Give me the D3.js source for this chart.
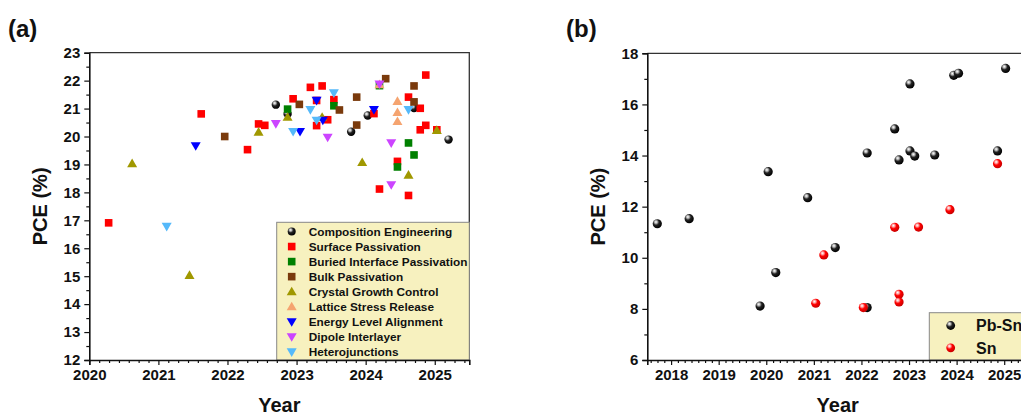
<!DOCTYPE html>
<html><head><meta charset="utf-8">
<script src="https://cdn.jsdelivr.net/npm/d3@7"></script>
<style>
body{margin:0;background:#fff;}
svg text{font-family:"Liberation Sans",Arial,sans-serif;font-weight:bold;}
</style></head>
<body><svg id="c" width="1021" height="415"></svg>
<script>
// ---------- Panel (a) data: [year, PCE %] ----------
const compositionEngineering = [[2022.70,21.14],[2022.87,20.81],[2023.79,20.17],[2024.03,20.75],[2024.70,21.02],[2025.20,19.89]];
const surfacePassivation = [[2020.28,16.91],[2021.62,20.81],[2022.29,19.53],[2022.45,20.45],[2022.54,20.40],[2022.95,21.35],[2023.20,21.76],[2023.37,21.81],[2023.29,20.39],[2023.29,21.29],[2023.45,20.60],[2023.54,21.32],[2024.12,20.82],[2024.20,18.12],[2024.46,19.11],[2024.62,17.89],[2024.62,21.41],[2024.79,21.01],[2024.87,22.20],[2024.87,20.40],[2024.79,20.24],[2025.03,20.24]];
const buriedInterfacePassivation = [[2022.87,20.98],[2023.54,21.10],[2024.46,18.91],[2024.62,19.77],[2024.70,19.34],[2024.20,21.82]];
const bulkPassivation = [[2021.96,20.00],[2023.04,21.15],[2023.62,20.95],[2023.87,21.41],[2023.87,20.41],[2024.29,22.07],[2024.70,21.81],[2024.70,21.24]];
const crystalGrowthControl = [[2020.62,19.03],[2021.45,15.03],[2022.45,20.16],[2022.87,20.69],[2023.37,20.69],[2023.95,19.07],[2024.62,18.62],[2025.03,20.22]];
const latticeStressRelease = [[2024.46,21.26],[2024.46,20.86],[2024.46,20.54],[2024.20,21.86]];
const energyLevelAlignment = [[2021.54,19.67],[2023.05,20.18],[2023.29,21.29],[2023.38,20.58],[2024.12,20.96]];
const dipoleInterlayer = [[2022.70,20.46],[2023.45,19.97],[2024.20,21.88],[2024.37,19.77],[2024.37,18.27]];
const heterojunctions = [[2021.12,16.78],[2022.95,20.18],[2023.20,20.96],[2023.29,20.58],[2023.54,21.56],[2024.62,20.96]];

const seriesNamesA = ["Composition Engineering","Surface Passivation","Buried Interface Passivation","Bulk Passivation","Crystal Growth Control","Lattice Stress Release","Energy Level Alignment","Dipole Interlayer","Heterojunctions"];
const seriesDataA = [compositionEngineering,surfacePassivation,buriedInterfacePassivation,bulkPassivation,crystalGrowthControl,latticeStressRelease,energyLevelAlignment,dipoleInterlayer,heterojunctions];
const xTicksA = [2020,2021,2022,2023,2024,2025];
const yTicksA = [12,13,14,15,16,17,18,19,20,21,22,23];

// ---------- Panel (b) data ----------
const pbSn = [[2017.71,11.33],[2018.38,11.53],[2019.87,8.11],[2020.04,13.37],[2020.20,9.42],[2020.87,12.35],[2021.45,10.40],[2022.12,14.10],[2022.12,8.05],[2022.70,15.04],[2022.79,13.83],[2023.02,16.80],[2023.02,14.18],[2023.12,13.98],[2023.54,14.02],[2023.94,17.14],[2024.04,17.22],[2024.86,14.18],[2025.03,17.41]];
const sn = [[2021.04,8.22],[2021.21,10.11],[2022.04,8.05],[2022.70,11.19],[2022.79,8.57],[2022.79,8.27],[2023.20,11.20],[2023.86,11.88],[2024.86,13.68]];
const seriesNamesB = ["Pb-Sn","Sn"];
const xTicksB = [2018,2019,2020,2021,2022,2023,2024,2025];
const yTicksB = [6,8,10,12,14,16,18];

// ---------- styles ----------
const styleA = [
  {shape:"sphere", grad:"gBlack"},
  {shape:"square", color:"#ff0000"},
  {shape:"square", color:"#008000"},
  {shape:"square", color:"#7a3a0c"},
  {shape:"up", color:"#a09800"},
  {shape:"up", color:"#f5a470"},
  {shape:"down", color:"#0000ff"},
  {shape:"down", color:"#cc44ff"},
  {shape:"down", color:"#55b9fa"}
];
const styleB = [{grad:"gBlack"},{grad:"gRed"}];

const svg = d3.select("#c");
const defs = svg.append("defs");
function grad(id, stops){
  const g = defs.append("radialGradient").attr("id",id).attr("cx","38%").attr("cy","35%").attr("r","65%").attr("fx","35%").attr("fy","30%");
  stops.forEach(s=>g.append("stop").attr("offset",s[0]).attr("stop-color",s[1]));
}
grad("gBlack",[["0%","#ffffff"],["22%","#bbbbbb"],["50%","#222222"],["100%","#000000"]]);
grad("gRed",[["0%","#ffffff"],["22%","#ffaaaa"],["50%","#ff0000"],["100%","#c80000"]]);

function drawMarker(g, st, x, y, r){
  if(st.shape==="sphere" || st.grad){
    g.append("circle").attr("cx",x).attr("cy",y).attr("r",r).attr("fill","url(#"+st.grad+")");
  } else if(st.shape==="square"){
    g.append("rect").attr("x",x-3.8).attr("y",y-3.8).attr("width",7.6).attr("height",7.6).attr("fill",st.color);
  } else if(st.shape==="up"){
    g.append("path").attr("d",`M${x},${y-5}L${x+5},${y+3.6}L${x-5},${y+3.6}Z`).attr("fill",st.color);
  } else {
    g.append("path").attr("d",`M${x},${y+5}L${x+5},${y-3.6}L${x-5},${y-3.6}Z`).attr("fill",st.color);
  }
}

function minorVals(ticks, n, lo, hi){
  const out=[]; const step=(ticks[1]-ticks[0])/(n+1);
  for(let v=ticks[0]-step*(n+1); v<=ticks[ticks.length-1]+step*(n+1)+1e-9; v+=step){
    const vv=Math.round(v*1000)/1000;
    if(vv>=lo-1e-9 && vv<=hi+1e-9 && !ticks.some(t=>Math.abs(t-vv)<1e-6)) out.push(vv);
  }
  return out;
}

function panel(opt){
  const x = d3.scaleLinear().domain(opt.xd).range([opt.l,opt.r]);
  const y = d3.scaleLinear().domain(opt.yd).range([opt.b,opt.t]);
  const g = svg.append("g");
  // top/right frame
  g.append("path").attr("d",`M${opt.l},${opt.t}H${opt.r}V${opt.b}`).attr("fill","none").attr("stroke","#333").attr("stroke-width",1.3);
  // markers
  const mg = g.append("g");
  opt.data.forEach((s,i)=>s.forEach(d=>drawMarker(mg,opt.styles[i],x(d[0]),y(d[1]),opt.r0)));
  // legend
  const lg = g.append("g");
  lg.append("rect").attr("x",opt.leg.x).attr("y",opt.leg.y).attr("width",opt.leg.w).attr("height",opt.leg.h).attr("fill","#f7f1bf").attr("stroke","#888").attr("stroke-width",1);
  opt.names.forEach((n,i)=>{
    const yy = opt.leg.y0 + i*opt.leg.dy;
    drawMarker(lg,opt.styles[i],opt.leg.sx,yy,opt.leg.r);
    lg.append("text").attr("x",opt.leg.tx).attr("y",yy).attr("dy","0.36em").attr("font-size",opt.leg.fs).attr("fill","#111").text(n);
  });
  // axes
  const ax = g.append("g").attr("transform",`translate(0,${opt.b})`)
    .call(d3.axisBottom(x).tickValues(opt.xt).tickFormat(d3.format("d")).tickSize(5).tickPadding(4));
  g.append("g").attr("transform",`translate(0,${opt.b})`)
    .call(d3.axisBottom(x).tickValues(minorVals(opt.xt,6,opt.xd[0],opt.xd[1])).tickFormat("").tickSize(3))
    .call(a=>a.select(".domain").remove());
  const ay = g.append("g").attr("transform",`translate(${opt.l},0)`)
    .call(d3.axisLeft(y).tickValues(opt.yt).tickSize(5).tickPadding(4));
  g.append("g").attr("transform",`translate(${opt.l},0)`)
    .call(d3.axisLeft(y).tickValues(minorVals(opt.yt,1,opt.yd[0],opt.yd[1])).tickFormat("").tickSize(3))
    .call(a=>a.select(".domain").remove());
  g.selectAll(".domain").attr("stroke","#111").attr("stroke-width",1.6);
  g.selectAll(".tick line").attr("stroke","#111").attr("stroke-width",1.2);
  g.selectAll(".tick text").attr("font-size",15).attr("fill","#111").attr("font-family","'Liberation Sans',Arial,sans-serif").attr("font-weight","bold");
  // axis titles
  svg.append("text").attr("x",(opt.l+opt.titleRight)/2).attr("y",412).attr("text-anchor","middle").attr("font-size",20).attr("fill","#111").text("Year");
  svg.append("text").attr("transform",`translate(${opt.ylabX},${(opt.t+opt.b)/2}) rotate(-90)`).attr("text-anchor","middle").attr("font-size",20).attr("fill","#111").text("PCE (%)");
  svg.append("text").attr("x",opt.lab[0]).attr("y",opt.lab[1]).attr("font-size",24).attr("fill","#111").text(opt.label);
}

panel({xd:[2020,2025.5], yd:[12,23], l:89.3, r:469.3, t:52.7, b:360, xt:xTicksA, yt:yTicksA,
  data:seriesDataA, styles:styleA, names:seriesNamesA, r0:4.2, titleRight:469.3,
  leg:{x:276.7,y:222.3,w:192.6,h:137.7,y0:231.5,dy:15.05,sx:291.7,tx:308.7,fs:11.8,r:4},
  ylabX:47, lab:[8,37], label:"(a)"});

panel({xd:[2017.5,2025.5], yd:[6,18], l:647.3, r:1028, t:53.3, b:360, xt:xTicksB, yt:yTicksB,
  data:[pbSn,sn], styles:styleB, names:seriesNamesB, r0:4.6, titleRight:1028,
  leg:{x:929.3,y:312.7,w:120,h:47.3,y0:325.5,dy:22.3,sx:950.7,tx:976,fs:16,r:4.4},
  ylabX:605, lab:[566,37], label:"(b)"});
</script></body></html>
